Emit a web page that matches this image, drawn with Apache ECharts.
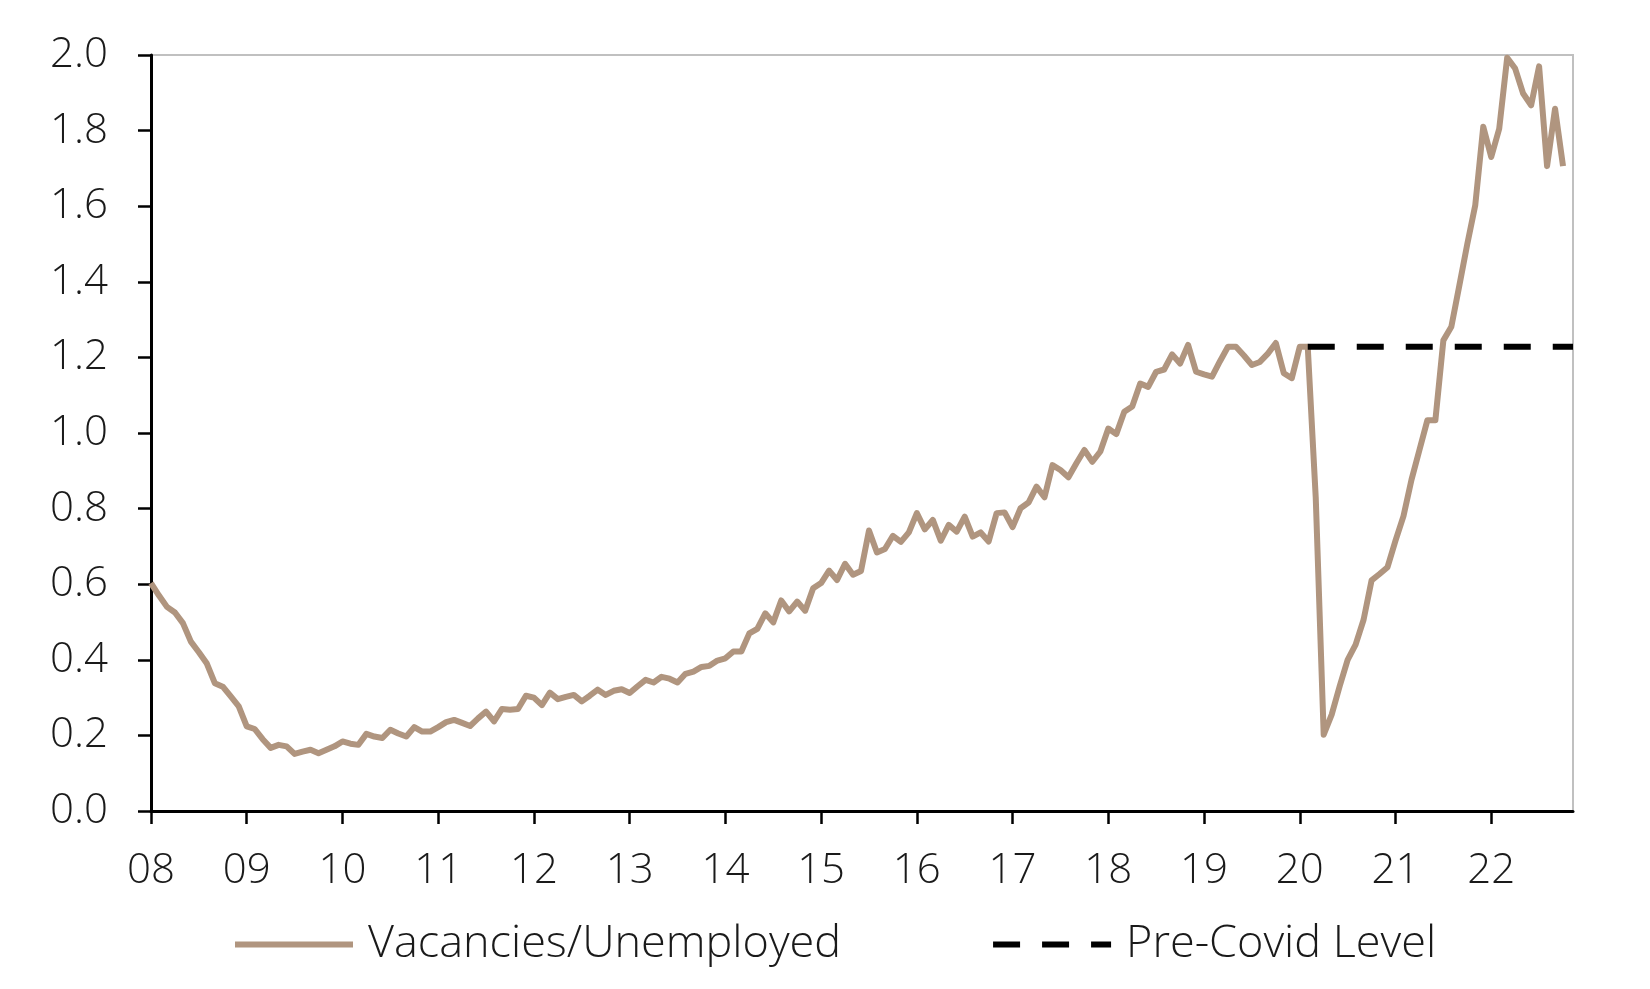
<!DOCTYPE html>
<html>
<head>
<meta charset="utf-8">
<script src="https://cdn.jsdelivr.net/npm/echarts@6/dist/echarts.min.js"></script>
<style>
  html, body { margin: 0; padding: 0; background: #fff; }
  #chart { width: 1650px; height: 989px; }
</style>
</head>
<body>
<div id="chart"></div>
<script>
// year labels on the x axis (one per January, monthly data from Jan 2008)
var yearLabels = ['08', '09', '10', '11', '12', '13', '14', '15', '16', '17', '18', '19', '20', '21', '22'];

// vacancies / unemployed ratio, monthly, Jan 2008 - Oct 2022
var vuRatio = [
  0.603, 0.57, 0.54, 0.525, 0.497, 0.448, 0.42, 0.39, 0.338, 0.329, 0.303, 0.277,
  0.224, 0.217, 0.19, 0.167, 0.175, 0.171, 0.151, 0.157, 0.162, 0.153, 0.162, 0.171,
  0.184, 0.178, 0.175, 0.204, 0.197, 0.193, 0.215, 0.205, 0.197, 0.222, 0.21, 0.21,
  0.222, 0.235, 0.241, 0.233, 0.225, 0.245, 0.263, 0.237, 0.27, 0.268, 0.27, 0.305,
  0.30, 0.28, 0.313, 0.296, 0.302, 0.307, 0.29, 0.305, 0.321, 0.307, 0.318, 0.322,
  0.312, 0.33, 0.347, 0.34, 0.355, 0.35, 0.34, 0.363, 0.369, 0.381, 0.384, 0.398,
  0.404, 0.422, 0.422, 0.47, 0.482, 0.523, 0.499, 0.557, 0.528, 0.554, 0.53, 0.589,
  0.603, 0.636, 0.611, 0.654, 0.625, 0.635, 0.742, 0.684, 0.693, 0.728, 0.712, 0.737,
  0.788, 0.745, 0.77, 0.715, 0.757, 0.739, 0.779, 0.726, 0.737, 0.713, 0.788, 0.79,
  0.751, 0.801, 0.816, 0.858, 0.83, 0.915, 0.902, 0.883, 0.92, 0.955, 0.924, 0.951,
  1.012, 0.997, 1.056, 1.07, 1.131, 1.122, 1.162, 1.168, 1.208, 1.184, 1.233, 1.162,
  1.155, 1.149, 1.19, 1.228, 1.228, 1.205, 1.18, 1.188, 1.21, 1.238, 1.158, 1.145,
  1.228, 1.228, 0.83, 0.202, 0.255, 0.33, 0.40, 0.44, 0.506, 0.61, 0.627, 0.645,
  0.715, 0.78, 0.876, 0.955, 1.034, 1.034, 1.245, 1.281, 1.39, 1.50, 1.603, 1.81,
  1.73, 1.805, 1.993, 1.964, 1.898, 1.867, 1.97, 1.706, 1.858, 1.706
];

// pre-covid level and the month (index from Jan 2008) it starts from
var preCovidLevel = 1.228;
var preCovidStart = 145;

var xMax = 178.25;
var yearTicks = yearLabels.map(function (y, i) { return i * 12; });
var vuData = vuRatio.map(function (v, i) { return [i, v]; });
var preCovidData = [[preCovidStart, preCovidLevel], [xMax, preCovidLevel]];

var textColor = '#1a1a1a';
var fontFamily = '"Open Sans", "Noto Sans", sans-serif';

var myChart = echarts.init(document.getElementById('chart'));
var option = {
    animation: false,
    backgroundColor: '#fff',
    grid: {
        left: 151,
        right: 77,
        top: 55,
        bottom: 178,
        show: true,
        borderColor: '#c0c0c0',
        borderWidth: 2
    },
    legend: {
        left: 232,
        top: 922,
        padding: 0,
        itemWidth: 118,
        itemHeight: 12,
        itemGap: 149,
        itemStyle: { opacity: 0 },
        lineStyle: { width: 'inherit' },
        textStyle: {
            color: textColor,
            fontSize: 45,
            fontWeight: 300,
            fontFamily: fontFamily,
            padding: [0, 0, 0, 10]
        },
        data: ['Vacancies/Unemployed', 'Pre-Covid Level']
    },
    xAxis: {
        type: 'value',
        min: 0,
        max: xMax,
        splitLine: { show: false },
        axisLine: { lineStyle: { color: '#000', width: 3 } },
        axisTick: {
            customValues: yearTicks,
            length: 13,
            lineStyle: { color: '#000', width: 2.5 }
        },
        axisLabel: {
            customValues: yearTicks,
            margin: 39,
            color: textColor,
            fontSize: 42,
            fontWeight: 300,
            fontFamily: fontFamily,
            formatter: function (v) { return yearLabels[Math.round(v / 12)]; }
        }
    },
    yAxis: {
        type: 'value',
        min: 0,
        max: 2,
        interval: 0.2,
        splitLine: { show: false },
        axisLine: { show: true, lineStyle: { color: '#000', width: 3 } },
        axisTick: { show: true, length: 13, lineStyle: { color: '#000', width: 2.5 } },
        axisLabel: {
            margin: 43,
            color: textColor,
            fontSize: 42,
            fontWeight: 300,
            fontFamily: fontFamily,
            formatter: function (v) { return v.toFixed(1); }
        }
    },
    series: [
        {
            name: 'Vacancies/Unemployed',
            type: 'line',
            symbol: 'none',
            data: vuData,
            lineStyle: { color: '#B0957F', width: 6, join: 'round' },
            itemStyle: { color: '#B0957F' }
        },
        {
            name: 'Pre-Covid Level',
            type: 'line',
            symbol: 'none',
            data: preCovidData,
            z: 3,
            lineStyle: { color: '#000', width: 6, type: [27, 22] },
            itemStyle: { color: '#000' }
        }
    ]
};
myChart.setOption(option);
</script>
</body>
</html>
